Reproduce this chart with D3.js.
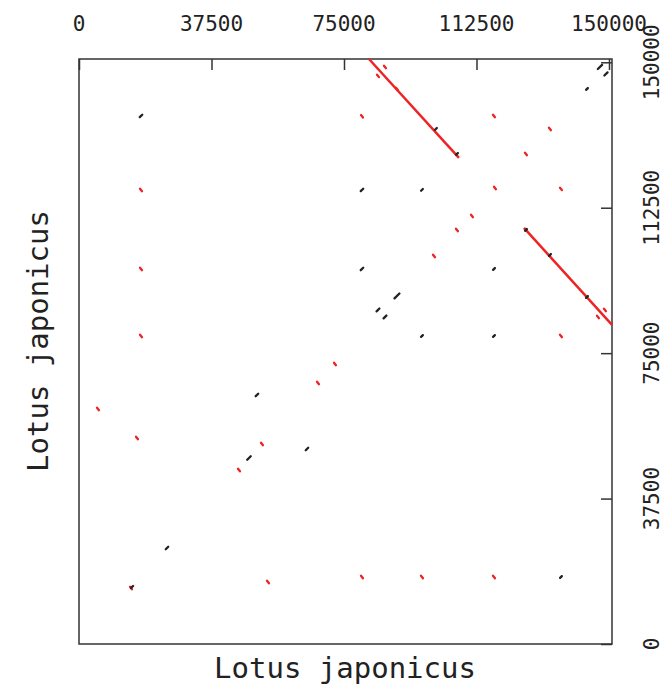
<!DOCTYPE html>
<meta charset="utf-8">
<style>
body { margin: 0; background: #fff; }
svg text { font-family: 'DejaVu Sans Mono', monospace; fill: #222; }
</style>
<body>
<script src="https://cdn.jsdelivr.net/npm/d3@7"></script>
<script>

// sequence length shown on both axes
var seqLen = 150850;
var tickValues = [0, 37500, 75000, 112500, 150000];
var xTitle = "Lotus japonicus",
    yTitle = "Lotus japonicus";

// long matches: [refStart, qryStart, refEnd, qryEnd]
var longRed = [
  [82070, 150850, 107540, 125340],
  [125935, 107290, 150850, 82300]
];

// short red matches, centre points [ref, qry]
var redRef = [86600, 84620, 89990, 80090, 117445, 133290, 126500, 117730, 111220, 106970,
              100470, 17550, 17550, 17550, 148860, 146880, 136410, 72450, 67640, 51790,
              45280, 5380, 16410, 14720, 53490, 80090, 97070, 117450, 136410];
var redQry = [148800, 146490, 143130, 136080, 136170, 132820, 126370, 117600, 110380, 106770,
              100070, 117090, 96710, 79430, 86140, 84330, 79430, 72210, 67310, 51580,
              44870, 60610, 53130, 14440, 15990, 17280, 17280, 17280, 117350];

// short black matches, centre points [ref, qry]
var blackRef = [17550, 101030, 106970, 143760, 147440, 149140, 80090, 97070, 80090, 117450,
                89990, 84620, 86600, 97070, 117450, 50370, 64520, 48110, 24900, 15000,
                136410, 126500, 133290, 143760];
var blackQry = [136170, 132820, 126370, 143130, 148800, 147000, 117090, 117090, 96710, 96710,
                89750, 86140, 84330, 79430, 79430, 64220, 50290, 47970, 24760, 14700,
                17280, 106770, 100320, 89490];
// half length of each short match (in bases)
var blackLen = [350, 250, 250, 250, 600, 450, 350, 250, 350, 250,
                700, 400, 400, 250, 250, 350, 350, 500, 350, 300,
                250, 250, 250, 250];

var W = 664, H = 687;
var x = d3.scaleLinear().domain([0, seqLen]).range([79, 612]);
var y = d3.scaleLinear().domain([0, seqLen]).range([644, 59]);

var svg = d3.select("body").append("svg").attr("width", W).attr("height", H);

var red = "#ee2424", black = "#222";

// frame
svg.append("rect")
    .attr("x", x(0)).attr("y", y(seqLen))
    .attr("width", x(seqLen) - x(0)).attr("height", y(0) - y(seqLen))
    .attr("fill", "none").attr("stroke", "#333").attr("stroke-width", 1.5);

// top axis (ticks inward)
var xAxis = d3.axisBottom(x).tickValues(tickValues).tickSize(11).tickFormat(d3.format("d"));
var gx = svg.append("g").attr("transform", "translate(0," + y(seqLen) + ")").call(xAxis);
gx.select(".domain").remove();
gx.selectAll("line").attr("stroke", "#333").attr("stroke-width", 1.5);
gx.selectAll("text").remove();
svg.append("g").selectAll("text").data(tickValues).join("text")
    .attr("x", d => x(d)).attr("y", 31)
    .attr("text-anchor", "middle").style("font-size", "21px")
    .text(d => d);

// right axis (ticks inward)
var yAxis = d3.axisLeft(y).tickValues(tickValues).tickSize(11);
var gy = svg.append("g").attr("transform", "translate(" + x(seqLen) + ",0)").call(yAxis);
gy.select(".domain").remove();
gy.selectAll("line").attr("stroke", "#333").attr("stroke-width", 1.5);
gy.selectAll("text").remove();
svg.append("g").selectAll("text").data(tickValues).join("text")
    .attr("transform", d => "translate(659," + y(d) + ") rotate(-90)")
    .attr("text-anchor", "middle").style("font-size", "21px")
    .text(d => d);

// axis titles
svg.append("text").attr("x", 345).attr("y", 678)
    .attr("text-anchor", "middle").style("font-size", "29px").text(xTitle);
svg.append("text").attr("transform", "translate(48,341) rotate(-90)")
    .attr("text-anchor", "middle").style("font-size", "29px").text(yTitle);

var plot = svg.append("g");

// long red matches
plot.selectAll(".long").data(longRed).join("line")
    .attr("class", "long")
    .attr("x1", d => x(d[0])).attr("y1", d => y(d[1]))
    .attr("x2", d => x(d[2])).attr("y2", d => y(d[3]))
    .attr("stroke", red).attr("stroke-width", 2.5);

// short red matches (reverse direction)
plot.selectAll(".sred").data(d3.range(redRef.length)).join("line")
    .attr("class", "sred")
    .attr("x1", i => x(redRef[i] - 280)).attr("y1", i => y(redQry[i] + 320))
    .attr("x2", i => x(redRef[i] + 280)).attr("y2", i => y(redQry[i] - 320))
    .attr("stroke", red).attr("stroke-width", 2.3).attr("stroke-linecap", "round");

// short black matches (forward direction)
plot.selectAll(".sblk").data(d3.range(blackRef.length)).join("line")
    .attr("class", "sblk")
    .attr("x1", i => x(blackRef[i] - blackLen[i])).attr("y1", i => y(blackQry[i] - blackLen[i] * 0.9))
    .attr("x2", i => x(blackRef[i] + blackLen[i])).attr("y2", i => y(blackQry[i] + blackLen[i] * 0.9))
    .attr("stroke", black).attr("stroke-width", 2.3).attr("stroke-linecap", "round");

</script>
</body>
